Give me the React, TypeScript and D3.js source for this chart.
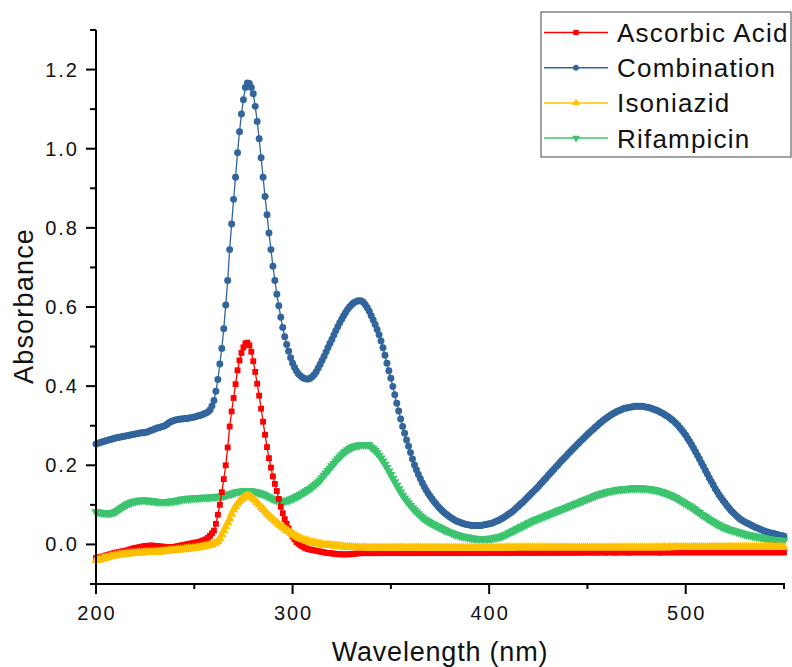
import React from 'react';
import * as d3 from 'd3';

// wavelength grid (nm), 1 nm step like the instrument export
const wavelengths = d3.range(200, 551, 1);

const ascorbicAcid = [
  -0.034, -0.033, -0.032, -0.031, -0.030, -0.028, -0.027, -0.025, -0.024, -0.022, -0.021, -0.020, -0.019, -0.018, -0.017, -0.016, -0.015, -0.013, -0.012, -0.010,
  -0.009, -0.008, -0.007, -0.006, -0.005, -0.004, -0.004, -0.003, -0.003, -0.003, -0.004, -0.004, -0.005, -0.005, -0.006, -0.006, -0.007, -0.007, -0.007, -0.007,
  -0.006, -0.005, -0.004, -0.003, -0.002, -0.001, 0.000, 0.001, 0.002, 0.003, 0.004, 0.005, 0.006, 0.007, 0.009, 0.011, 0.013, 0.017, 0.022, 0.028,
  0.035, 0.052, 0.075, 0.100, 0.132, 0.165, 0.200, 0.245, 0.298, 0.336, 0.370, 0.405, 0.440, 0.465, 0.484, 0.498, 0.508, 0.510, 0.503, 0.487,
  0.463, 0.436, 0.406, 0.376, 0.343, 0.310, 0.277, 0.246, 0.218, 0.194, 0.172, 0.153, 0.135, 0.115, 0.095, 0.079, 0.064, 0.052, 0.040, 0.030,
  0.020, 0.013, 0.006, 0.002, -0.002, -0.005, -0.008, -0.010, -0.012, -0.013, -0.014, -0.015, -0.016, -0.017, -0.018, -0.019, -0.020, -0.021, -0.022, -0.022,
  -0.023, -0.023, -0.024, -0.024, -0.025, -0.025, -0.025, -0.025, -0.025, -0.025, -0.024, -0.024, -0.023, -0.023, -0.022, -0.022, -0.022, -0.022, -0.022, -0.022,
  -0.022, -0.022, -0.022, -0.022, -0.021, -0.022, -0.022, -0.022, -0.022, -0.021, -0.022, -0.022, -0.022, -0.021, -0.022, -0.022, -0.022, -0.022, -0.021, -0.022,
  -0.022, -0.022, -0.021, -0.022, -0.022, -0.022, -0.021, -0.022, -0.022, -0.021, -0.022, -0.022, -0.021, -0.022, -0.022, -0.021, -0.022, -0.021, -0.022, -0.022,
  -0.021, -0.022, -0.021, -0.022, -0.021, -0.021, -0.022, -0.021, -0.022, -0.021, -0.021, -0.022, -0.021, -0.021, -0.022, -0.021, -0.021, -0.021, -0.022, -0.021,
  -0.021, -0.021, -0.021, -0.022, -0.021, -0.021, -0.021, -0.021, -0.021, -0.022, -0.021, -0.021, -0.021, -0.021, -0.021, -0.021, -0.021, -0.021, -0.021, -0.021,
  -0.021, -0.021, -0.021, -0.021, -0.021, -0.020, -0.021, -0.021, -0.021, -0.021, -0.021, -0.020, -0.021, -0.021, -0.021, -0.020, -0.021, -0.021, -0.020, -0.021,
  -0.021, -0.020, -0.021, -0.021, -0.020, -0.021, -0.020, -0.021, -0.020, -0.021, -0.020, -0.020, -0.021, -0.020, -0.020, -0.021, -0.020, -0.020, -0.020, -0.021,
  -0.020, -0.020, -0.020, -0.020, -0.021, -0.020, -0.020, -0.020, -0.020, -0.020, -0.020, -0.021, -0.020, -0.020, -0.020, -0.020, -0.020, -0.020, -0.020, -0.020,
  -0.020, -0.020, -0.020, -0.020, -0.020, -0.020, -0.020, -0.021, -0.020, -0.020, -0.020, -0.020, -0.020, -0.020, -0.020, -0.020, -0.020, -0.020, -0.020, -0.020,
  -0.020, -0.020, -0.020, -0.020, -0.020, -0.020, -0.020, -0.020, -0.020, -0.020, -0.020, -0.020, -0.020, -0.020, -0.020, -0.020, -0.020, -0.020, -0.020, -0.020,
  -0.020, -0.020, -0.020, -0.020, -0.020, -0.020, -0.020, -0.020, -0.020, -0.020, -0.020, -0.020, -0.020, -0.020, -0.020, -0.020, -0.020, -0.020, -0.020, -0.020,
  -0.020, -0.020, -0.020, -0.020, -0.020, -0.020, -0.020, -0.020, -0.020, -0.020, -0.020,
];

const combination = [
  0.254, 0.256, 0.257, 0.259, 0.260, 0.262, 0.263, 0.265, 0.266, 0.268, 0.269, 0.270, 0.271, 0.272, 0.273, 0.274, 0.275, 0.276, 0.277, 0.278,
  0.279, 0.280, 0.281, 0.282, 0.282, 0.283, 0.284, 0.286, 0.288, 0.290, 0.292, 0.294, 0.295, 0.297, 0.298, 0.300, 0.303, 0.307, 0.310, 0.312,
  0.314, 0.315, 0.316, 0.317, 0.317, 0.318, 0.318, 0.319, 0.320, 0.321, 0.322, 0.323, 0.325, 0.326, 0.328, 0.330, 0.332, 0.335, 0.340, 0.350,
  0.364, 0.387, 0.417, 0.456, 0.495, 0.545, 0.605, 0.667, 0.745, 0.810, 0.872, 0.928, 0.990, 1.043, 1.088, 1.124, 1.155, 1.166, 1.165, 1.155,
  1.139, 1.107, 1.069, 1.025, 0.977, 0.928, 0.879, 0.833, 0.787, 0.745, 0.703, 0.667, 0.632, 0.603, 0.574, 0.548, 0.525, 0.505, 0.488, 0.472,
  0.458, 0.447, 0.438, 0.431, 0.426, 0.422, 0.419, 0.418, 0.418, 0.420, 0.424, 0.429, 0.436, 0.445, 0.455, 0.465, 0.475, 0.486, 0.497, 0.508,
  0.518, 0.529, 0.540, 0.550, 0.560, 0.569, 0.578, 0.586, 0.594, 0.600, 0.606, 0.610, 0.613, 0.615, 0.616, 0.615, 0.612, 0.606, 0.598, 0.589,
  0.578, 0.567, 0.556, 0.543, 0.530, 0.514, 0.497, 0.478, 0.458, 0.439, 0.420, 0.399, 0.378, 0.357, 0.337, 0.317, 0.298, 0.281, 0.264, 0.248,
  0.232, 0.216, 0.201, 0.189, 0.177, 0.166, 0.155, 0.146, 0.137, 0.129, 0.122, 0.115, 0.108, 0.102, 0.096, 0.091, 0.086, 0.081, 0.077, 0.073,
  0.069, 0.066, 0.063, 0.060, 0.058, 0.056, 0.054, 0.052, 0.051, 0.050, 0.049, 0.048, 0.048, 0.048, 0.048, 0.048, 0.048, 0.049, 0.050, 0.051,
  0.052, 0.053, 0.055, 0.057, 0.059, 0.061, 0.064, 0.067, 0.070, 0.073, 0.077, 0.080, 0.084, 0.088, 0.093, 0.097, 0.102, 0.106, 0.111, 0.116,
  0.121, 0.126, 0.131, 0.136, 0.141, 0.146, 0.152, 0.157, 0.163, 0.168, 0.174, 0.179, 0.185, 0.190, 0.196, 0.201, 0.207, 0.212, 0.217, 0.222,
  0.228, 0.233, 0.238, 0.243, 0.248, 0.253, 0.258, 0.263, 0.268, 0.273, 0.278, 0.282, 0.287, 0.291, 0.296, 0.300, 0.305, 0.309, 0.313, 0.317,
  0.320, 0.324, 0.327, 0.330, 0.333, 0.336, 0.338, 0.340, 0.342, 0.344, 0.345, 0.346, 0.347, 0.348, 0.349, 0.349, 0.349, 0.349, 0.349, 0.348,
  0.347, 0.346, 0.345, 0.343, 0.341, 0.339, 0.337, 0.334, 0.332, 0.329, 0.326, 0.323, 0.319, 0.315, 0.311, 0.306, 0.301, 0.295, 0.289, 0.283,
  0.276, 0.268, 0.260, 0.252, 0.243, 0.234, 0.225, 0.216, 0.206, 0.197, 0.187, 0.178, 0.168, 0.159, 0.150, 0.141, 0.133, 0.125, 0.118, 0.111,
  0.105, 0.098, 0.092, 0.086, 0.081, 0.076, 0.071, 0.067, 0.063, 0.060, 0.057, 0.054, 0.052, 0.049, 0.047, 0.044, 0.042, 0.040, 0.038, 0.036,
  0.034, 0.032, 0.031, 0.029, 0.028, 0.027, 0.026, 0.024, 0.023, 0.022, 0.021,
];

const isoniazid = [
  -0.040, -0.039, -0.038, -0.036, -0.035, -0.034, -0.033, -0.031, -0.030, -0.029, -0.028, -0.027, -0.026, -0.025, -0.025, -0.024, -0.024, -0.023, -0.023, -0.022,
  -0.022, -0.021, -0.021, -0.021, -0.021, -0.020, -0.020, -0.020, -0.020, -0.020, -0.020, -0.019, -0.019, -0.018, -0.018, -0.017, -0.017, -0.016, -0.016, -0.015,
  -0.015, -0.014, -0.014, -0.013, -0.013, -0.012, -0.012, -0.011, -0.011, -0.010, -0.010, -0.009, -0.008, -0.007, -0.006, -0.005, -0.004, -0.003, -0.002, 0.000,
  0.002, 0.004, 0.008, 0.015, 0.025, 0.035, 0.045, 0.055, 0.065, 0.077, 0.088, 0.096, 0.103, 0.109, 0.114, 0.118, 0.122, 0.123, 0.123, 0.120,
  0.116, 0.111, 0.105, 0.100, 0.094, 0.089, 0.084, 0.078, 0.073, 0.068, 0.064, 0.059, 0.055, 0.051, 0.047, 0.043, 0.040, 0.036, 0.033, 0.029,
  0.026, 0.023, 0.020, 0.017, 0.015, 0.013, 0.011, 0.009, 0.008, 0.006, 0.005, 0.004, 0.003, 0.002, 0.001, 0.000, -0.001, -0.001, -0.002, -0.002,
  -0.003, -0.003, -0.004, -0.004, -0.005, -0.005, -0.006, -0.006, -0.007, -0.007, -0.007, -0.007, -0.008, -0.008, -0.008, -0.008, -0.008, -0.008, -0.009, -0.009,
  -0.009, -0.009, -0.009, -0.009, -0.009, -0.009, -0.009, -0.009, -0.009, -0.009, -0.009, -0.009, -0.009, -0.009, -0.009, -0.009, -0.009, -0.009, -0.009, -0.009,
  -0.009, -0.009, -0.009, -0.009, -0.009, -0.009, -0.009, -0.009, -0.009, -0.009, -0.009, -0.009, -0.009, -0.009, -0.009, -0.009, -0.009, -0.009, -0.009, -0.009,
  -0.009, -0.009, -0.009, -0.009, -0.009, -0.009, -0.009, -0.009, -0.009, -0.009, -0.009, -0.009, -0.009, -0.009, -0.009, -0.009, -0.009, -0.009, -0.009, -0.009,
  -0.009, -0.009, -0.009, -0.009, -0.009, -0.009, -0.008, -0.009, -0.009, -0.008, -0.008, -0.008, -0.009, -0.008, -0.008, -0.008, -0.008, -0.008, -0.008, -0.008,
  -0.008, -0.008, -0.008, -0.008, -0.008, -0.008, -0.008, -0.008, -0.008, -0.008, -0.008, -0.008, -0.008, -0.008, -0.008, -0.008, -0.008, -0.008, -0.008, -0.008,
  -0.008, -0.008, -0.008, -0.008, -0.008, -0.008, -0.008, -0.008, -0.008, -0.008, -0.008, -0.008, -0.008, -0.008, -0.008, -0.008, -0.008, -0.008, -0.008, -0.008,
  -0.008, -0.008, -0.008, -0.008, -0.008, -0.008, -0.008, -0.008, -0.008, -0.008, -0.008, -0.008, -0.008, -0.008, -0.008, -0.008, -0.008, -0.008, -0.008, -0.008,
  -0.008, -0.008, -0.008, -0.008, -0.008, -0.008, -0.008, -0.008, -0.008, -0.007, -0.008, -0.008, -0.007, -0.008, -0.007, -0.007, -0.007, -0.007, -0.007, -0.007,
  -0.007, -0.007, -0.007, -0.007, -0.007, -0.007, -0.007, -0.007, -0.007, -0.007, -0.007, -0.007, -0.007, -0.007, -0.007, -0.007, -0.007, -0.007, -0.007, -0.007,
  -0.007, -0.007, -0.007, -0.007, -0.007, -0.007, -0.007, -0.007, -0.007, -0.007, -0.007, -0.007, -0.007, -0.007, -0.007, -0.007, -0.007, -0.007, -0.007, -0.007,
  -0.007, -0.007, -0.007, -0.007, -0.007, -0.007, -0.007, -0.007, -0.007, -0.007, -0.007,
];

const rifampicin = [
  0.082, 0.082, 0.081, 0.080, 0.080, 0.079, 0.079, 0.079, 0.080, 0.081, 0.083, 0.086, 0.089, 0.093, 0.096, 0.099, 0.102, 0.104, 0.106, 0.108,
  0.109, 0.110, 0.111, 0.112, 0.112, 0.112, 0.111, 0.111, 0.110, 0.110, 0.109, 0.108, 0.108, 0.108, 0.108, 0.108, 0.108, 0.108, 0.109, 0.109,
  0.110, 0.111, 0.112, 0.113, 0.114, 0.115, 0.115, 0.116, 0.116, 0.117, 0.117, 0.118, 0.118, 0.118, 0.119, 0.119, 0.119, 0.119, 0.119, 0.120,
  0.120, 0.120, 0.121, 0.121, 0.122, 0.123, 0.124, 0.126, 0.127, 0.128, 0.130, 0.132, 0.133, 0.134, 0.134, 0.135, 0.135, 0.135, 0.135, 0.135,
  0.134, 0.133, 0.132, 0.130, 0.129, 0.127, 0.125, 0.122, 0.120, 0.117, 0.115, 0.113, 0.112, 0.111, 0.110, 0.110, 0.110, 0.111, 0.112, 0.114,
  0.116, 0.118, 0.121, 0.123, 0.126, 0.129, 0.132, 0.135, 0.138, 0.141, 0.145, 0.149, 0.153, 0.157, 0.162, 0.168, 0.174, 0.180, 0.186, 0.192,
  0.198, 0.204, 0.210, 0.216, 0.221, 0.226, 0.231, 0.235, 0.239, 0.242, 0.245, 0.247, 0.249, 0.250, 0.251, 0.252, 0.252, 0.252, 0.252, 0.251,
  0.246, 0.242, 0.237, 0.231, 0.225, 0.218, 0.210, 0.202, 0.194, 0.185, 0.176, 0.167, 0.158, 0.149, 0.140, 0.132, 0.124, 0.117, 0.110, 0.104,
  0.098, 0.092, 0.087, 0.082, 0.077, 0.072, 0.068, 0.064, 0.061, 0.058, 0.055, 0.052, 0.050, 0.047, 0.045, 0.042, 0.040, 0.037, 0.035, 0.033,
  0.031, 0.029, 0.027, 0.025, 0.024, 0.022, 0.021, 0.020, 0.019, 0.018, 0.017, 0.016, 0.015, 0.015, 0.014, 0.014, 0.014, 0.014, 0.014, 0.014,
  0.015, 0.015, 0.016, 0.017, 0.018, 0.019, 0.020, 0.022, 0.024, 0.026, 0.029, 0.031, 0.034, 0.036, 0.039, 0.041, 0.044, 0.046, 0.049, 0.051,
  0.054, 0.056, 0.059, 0.061, 0.063, 0.065, 0.067, 0.069, 0.071, 0.073, 0.075, 0.077, 0.079, 0.081, 0.083, 0.085, 0.087, 0.089, 0.091, 0.093,
  0.095, 0.097, 0.099, 0.101, 0.103, 0.105, 0.107, 0.109, 0.111, 0.113, 0.115, 0.117, 0.119, 0.121, 0.123, 0.125, 0.127, 0.128, 0.130, 0.131,
  0.133, 0.134, 0.135, 0.136, 0.137, 0.138, 0.139, 0.139, 0.140, 0.140, 0.141, 0.141, 0.142, 0.142, 0.142, 0.142, 0.142, 0.142, 0.142, 0.142,
  0.141, 0.141, 0.140, 0.139, 0.138, 0.137, 0.136, 0.134, 0.133, 0.131, 0.129, 0.127, 0.125, 0.123, 0.120, 0.118, 0.115, 0.112, 0.109, 0.106,
  0.103, 0.100, 0.097, 0.094, 0.090, 0.087, 0.083, 0.080, 0.076, 0.073, 0.070, 0.066, 0.063, 0.060, 0.057, 0.054, 0.051, 0.049, 0.046, 0.044,
  0.042, 0.040, 0.038, 0.037, 0.035, 0.034, 0.032, 0.031, 0.029, 0.028, 0.026, 0.025, 0.024, 0.023, 0.022, 0.021, 0.020, 0.019, 0.018, 0.017,
  0.016, 0.015, 0.014, 0.013, 0.012, 0.012, 0.011, 0.011, 0.010, 0.010, 0.009,
];

const xMajor = [200, 300, 400, 500];
const xMinor = [250, 350, 450, 550];
const yMajor = [0, 0.2, 0.4, 0.6, 0.8, 1.0, 1.2];
const yMinor = [-0.1, 0.1, 0.3, 0.5, 0.7, 0.9, 1.1, 1.3];

const FONT = "Arial, 'Liberation Sans', sans-serif";

// legend order
const legendItems = [
  { name: 'Ascorbic Acid', color: '#ff0000', symbol: d3.symbolSquare, rot: 0 },
  { name: 'Combination', color: '#31659c', symbol: d3.symbolCircle, rot: 0 },
  { name: 'Isoniazid', color: '#ffc000', symbol: d3.symbolTriangle, rot: 0 },
  { name: 'Rifampicin', color: '#3cc46e', symbol: d3.symbolTriangle, rot: 180 },
];

// draw order (bottom -> top)
const plotSeries = [
  { values: combination, color: '#31659c', symbol: d3.symbolCircle, size: 38, rot: 0 },
  { values: rifampicin, color: '#3cc46e', symbol: d3.symbolTriangle, size: 38, rot: 180 },
  { values: ascorbicAcid, color: '#ff0000', symbol: d3.symbolSquare, size: 34, rot: 0 },
  { values: isoniazid, color: '#ffc000', symbol: d3.symbolTriangle, size: 38, rot: 0 },
];

export default function App() {
  const width = 792;
  const height = 667;

  const x = d3.scaleLinear().domain([200, 550]).range([96, 784]);
  const y = d3.scaleLinear().domain([-0.1, 1.3]).range([584, 30]);

  const line = d3.line<number>()
    .x((_, i) => x(wavelengths[i]))
    .y(d => y(d));

  return (
    <div style={{ position: 'absolute', left: 0, top: 0 }}>
      <svg width={width} height={height} style={{ display: 'block', background: '#fff' }}>
        {plotSeries.map((s, k) => {
          const path = d3.symbol().type(s.symbol).size(s.size)() as string;
          return (
            <g key={k}>
              <path d={line(s.values) as string} fill="none" stroke={s.color} strokeWidth={1.3} />
              {s.values.map((v, i) => (
                <path
                  key={i}
                  d={path}
                  fill={s.color}
                  transform={`translate(${x(wavelengths[i])},${y(v)}) rotate(${s.rot})`}
                />
              ))}
            </g>
          );
        })}

        {/* axes */}
        <g stroke="#000" strokeWidth={2}>
          <line x1={96} x2={96} y1={y(1.3)} y2={y(-0.1) + 1} />
          <line x1={95} x2={x(550) + 1} y1={584} y2={584} />
          {xMajor.map(t => <line key={'xM' + t} x1={x(t)} x2={x(t)} y1={584} y2={594} />)}
          {xMinor.map(t => <line key={'xm' + t} x1={x(t)} x2={x(t)} y1={584} y2={589} />)}
          {yMajor.map(t => <line key={'yM' + t} x1={86} x2={96} y1={y(t)} y2={y(t)} />)}
          {yMinor.map(t => <line key={'ym' + t} x1={90} x2={96} y1={y(t)} y2={y(t)} />)}
        </g>
        <g fontFamily={FONT} fontSize={20} fill="#111" letterSpacing={2}>
          {xMajor.map(t => (
            <text key={'xl' + t} x={x(t) + 1} y={620} textAnchor="middle">{t}</text>
          ))}
          {yMajor.map(t => (
            <text key={'yl' + t} x={79} y={y(t) + 7} textAnchor="end">{t.toFixed(1)}</text>
          ))}
        </g>
        <text x={440} y={661} textAnchor="middle" fontFamily={FONT} fontSize={27} letterSpacing={0.8} fill="#111">
          Wavelength (nm)
        </text>
        <text transform="translate(33,306) rotate(-90)" textAnchor="middle" fontFamily={FONT} fontSize={27} letterSpacing={1.2} fill="#111">
          Absorbance
        </text>

        {/* legend */}
        <rect x={541} y={12} width={250} height={145} fill="#fff" stroke="#444" strokeWidth={1} />
        {legendItems.map((it, i) => {
          const cy = 32.5 + i * 35.2;
          const path = d3.symbol().type(it.symbol).size(it.symbol === d3.symbolSquare ? 28 : 26)() as string;
          return (
            <g key={it.name}>
              <line x1={544} x2={608} y1={cy} y2={cy} stroke={it.color} strokeWidth={1.5} />
              <path d={path} fill={it.color} transform={`translate(576,${cy}) rotate(${it.rot})`} />
              <text x={617} y={cy + 9.5} fontFamily={FONT} fontSize={26} letterSpacing={1.2} fill="#111">
                {it.name}
              </text>
            </g>
          );
        })}
      </svg>
    </div>
  );
}
